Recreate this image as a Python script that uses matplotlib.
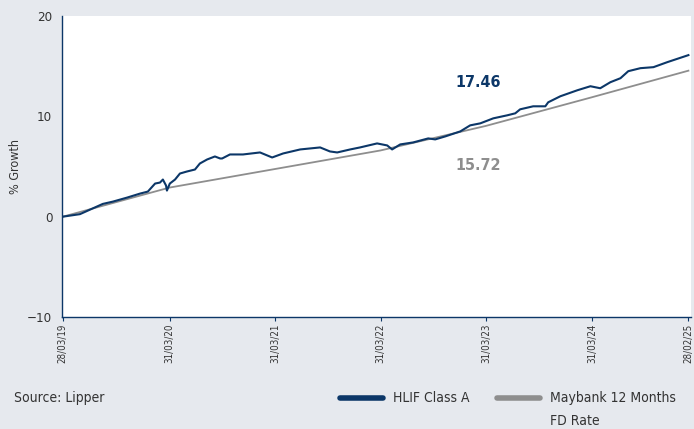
import matplotlib.pyplot as plt
from matplotlib.lines import Line2D
import pandas as pd

# HLIF Class A cumulative growth (%)
hlif_dates = ['2019-03-28', '2019-05-26', '2019-08-13', '2019-09-17', '2019-11-05',
              '2019-12-20', '2020-01-16', '2020-02-10', '2020-02-27', '2020-03-08',
              '2020-03-19', '2020-03-22', '2020-04-01', '2020-04-19', '2020-05-06',
              '2020-05-30', '2020-06-27', '2020-07-14', '2020-08-08', '2020-09-04',
              '2020-09-22', '2020-09-29', '2020-10-26', '2020-12-10', '2021-02-07',
              '2021-03-21', '2021-04-28', '2021-06-26', '2021-09-03', '2021-10-07',
              '2021-11-01', '2021-12-16', '2022-01-19', '2022-03-19', '2022-04-23',
              '2022-05-10', '2022-06-07', '2022-07-22', '2022-09-12', '2022-10-06',
              '2022-11-10', '2023-01-01', '2023-02-04', '2023-03-11', '2023-04-25',
              '2023-06-12', '2023-07-10', '2023-07-27', '2023-09-10', '2023-10-22',
              '2023-11-01', '2023-12-13', '2024-02-10', '2024-03-26', '2024-04-29',
              '2024-06-03', '2024-07-08', '2024-08-04', '2024-09-15', '2024-10-30',
              '2024-12-17', '2025-02-28']
hlif_vals = [0.0, 0.25, 1.27, 1.5, 1.9,
             2.3, 2.5, 3.3, 3.4, 3.7,
             3.1, 2.6, 3.3, 3.7, 4.3,
             4.5, 4.7, 5.3, 5.7, 6.0,
             5.8, 5.8, 6.2, 6.2, 6.4,
             5.9, 6.3, 6.7, 6.9, 6.5,
             6.4, 6.7, 6.9, 7.3, 7.1,
             6.7, 7.2, 7.4, 7.8, 7.7,
             8.0, 8.5, 9.1, 9.3, 9.8,
             10.1, 10.3, 10.7, 11.0, 11.0,
             11.4, 12.0, 12.6, 13.0, 12.8,
             13.4, 13.8, 14.5, 14.8, 14.9,
             15.4, 16.1]

# Maybank 12 Months FD Rate cumulative growth (%)
fd_dates = ['2019-03-28', '2020-03-31', '2021-03-31', '2022-03-31',
            '2023-03-31', '2024-03-31', '2025-02-28']
fd_vals = [0.0, 2.9, 4.75, 6.6, 9.05, 11.9, 14.55]

tick_dates = ['2019-03-28', '2020-03-31', '2021-03-31', '2022-03-31',
              '2023-03-31', '2024-03-31', '2025-02-28']
tick_labels = ['28/03/19', '31/03/20', '31/03/21', '31/03/22',
               '31/03/23', '31/03/24', '28/02/25']

NAVY = '#0c3768'
GREY = '#8e8e8e'
BG = '#e6e9ee'
TXT = '#333333'

plt.rcParams['font.family'] = ['Liberation Sans Narrow', 'DejaVu Sans']
plt.rcParams['font.stretch'] = 'condensed'

fig = plt.figure(figsize=(6.94, 4.29), dpi=100)
fig.patch.set_facecolor(BG)
ax = fig.add_axes([62/694, 1-317/429, 629/694, 301/429])
ax.set_facecolor('white')

ax.plot(pd.to_datetime(fd_dates), fd_vals, color=GREY, lw=1.3)
ax.plot(pd.to_datetime(hlif_dates), hlif_vals, color=NAVY, lw=1.5)

ax.set_ylim(-10, 20)
ax.set_yticks([-10, 0, 10, 20])
ax.set_xlim(pd.Timestamp('2019-03-25'), pd.Timestamp('2025-03-09'))
ax.set_xticks(pd.to_datetime(tick_dates))
ax.set_xticklabels(tick_labels, rotation=90, fontsize=7, color=TXT)
ax.tick_params(axis='x', length=3, color=NAVY, pad=2)
ax.tick_params(axis='y', length=0, labelsize=9.5, labelcolor=TXT, pad=7)
ax.set_ylabel('% Growth', fontsize=9, color=TXT)
ax.yaxis.set_label_coords(-0.064, 0.5)

for s in ['top', 'right']:
    ax.spines[s].set_visible(False)
for s in ['left', 'bottom']:
    ax.spines[s].set_color(NAVY)
    ax.spines[s].set_linewidth(1.0)

ax.text(pd.Timestamp('2023-03-03'), 13.4, '17.46', color=NAVY, fontsize=11.5,
        fontweight='bold', ha='center', va='center')
ax.text(pd.Timestamp('2023-03-03'), 5.05, '15.72', color=GREY, fontsize=11.5,
        fontweight='bold', ha='center', va='center')

# footer: source and legend
fig.text(14/694, 1-398/429, 'Source: Lipper', fontsize=10, color=TXT, va='center')
fig.add_artist(Line2D([340/694, 383/694], [1-398/429]*2, color=NAVY, lw=4,
                      solid_capstyle='round'))
fig.text(393/694, 1-398/429, 'HLIF Class A', fontsize=10, color=TXT, va='center')
fig.add_artist(Line2D([497/694, 540/694], [1-398/429]*2, color=GREY, lw=4,
                      solid_capstyle='round'))
fig.text(550/694, 1-398/429, 'Maybank 12 Months', fontsize=10, color=TXT, va='center')
fig.text(550/694, 1-421/429, 'FD Rate', fontsize=10, color=TXT, va='center')

fig.savefig('out.png', dpi=100, facecolor=BG)
